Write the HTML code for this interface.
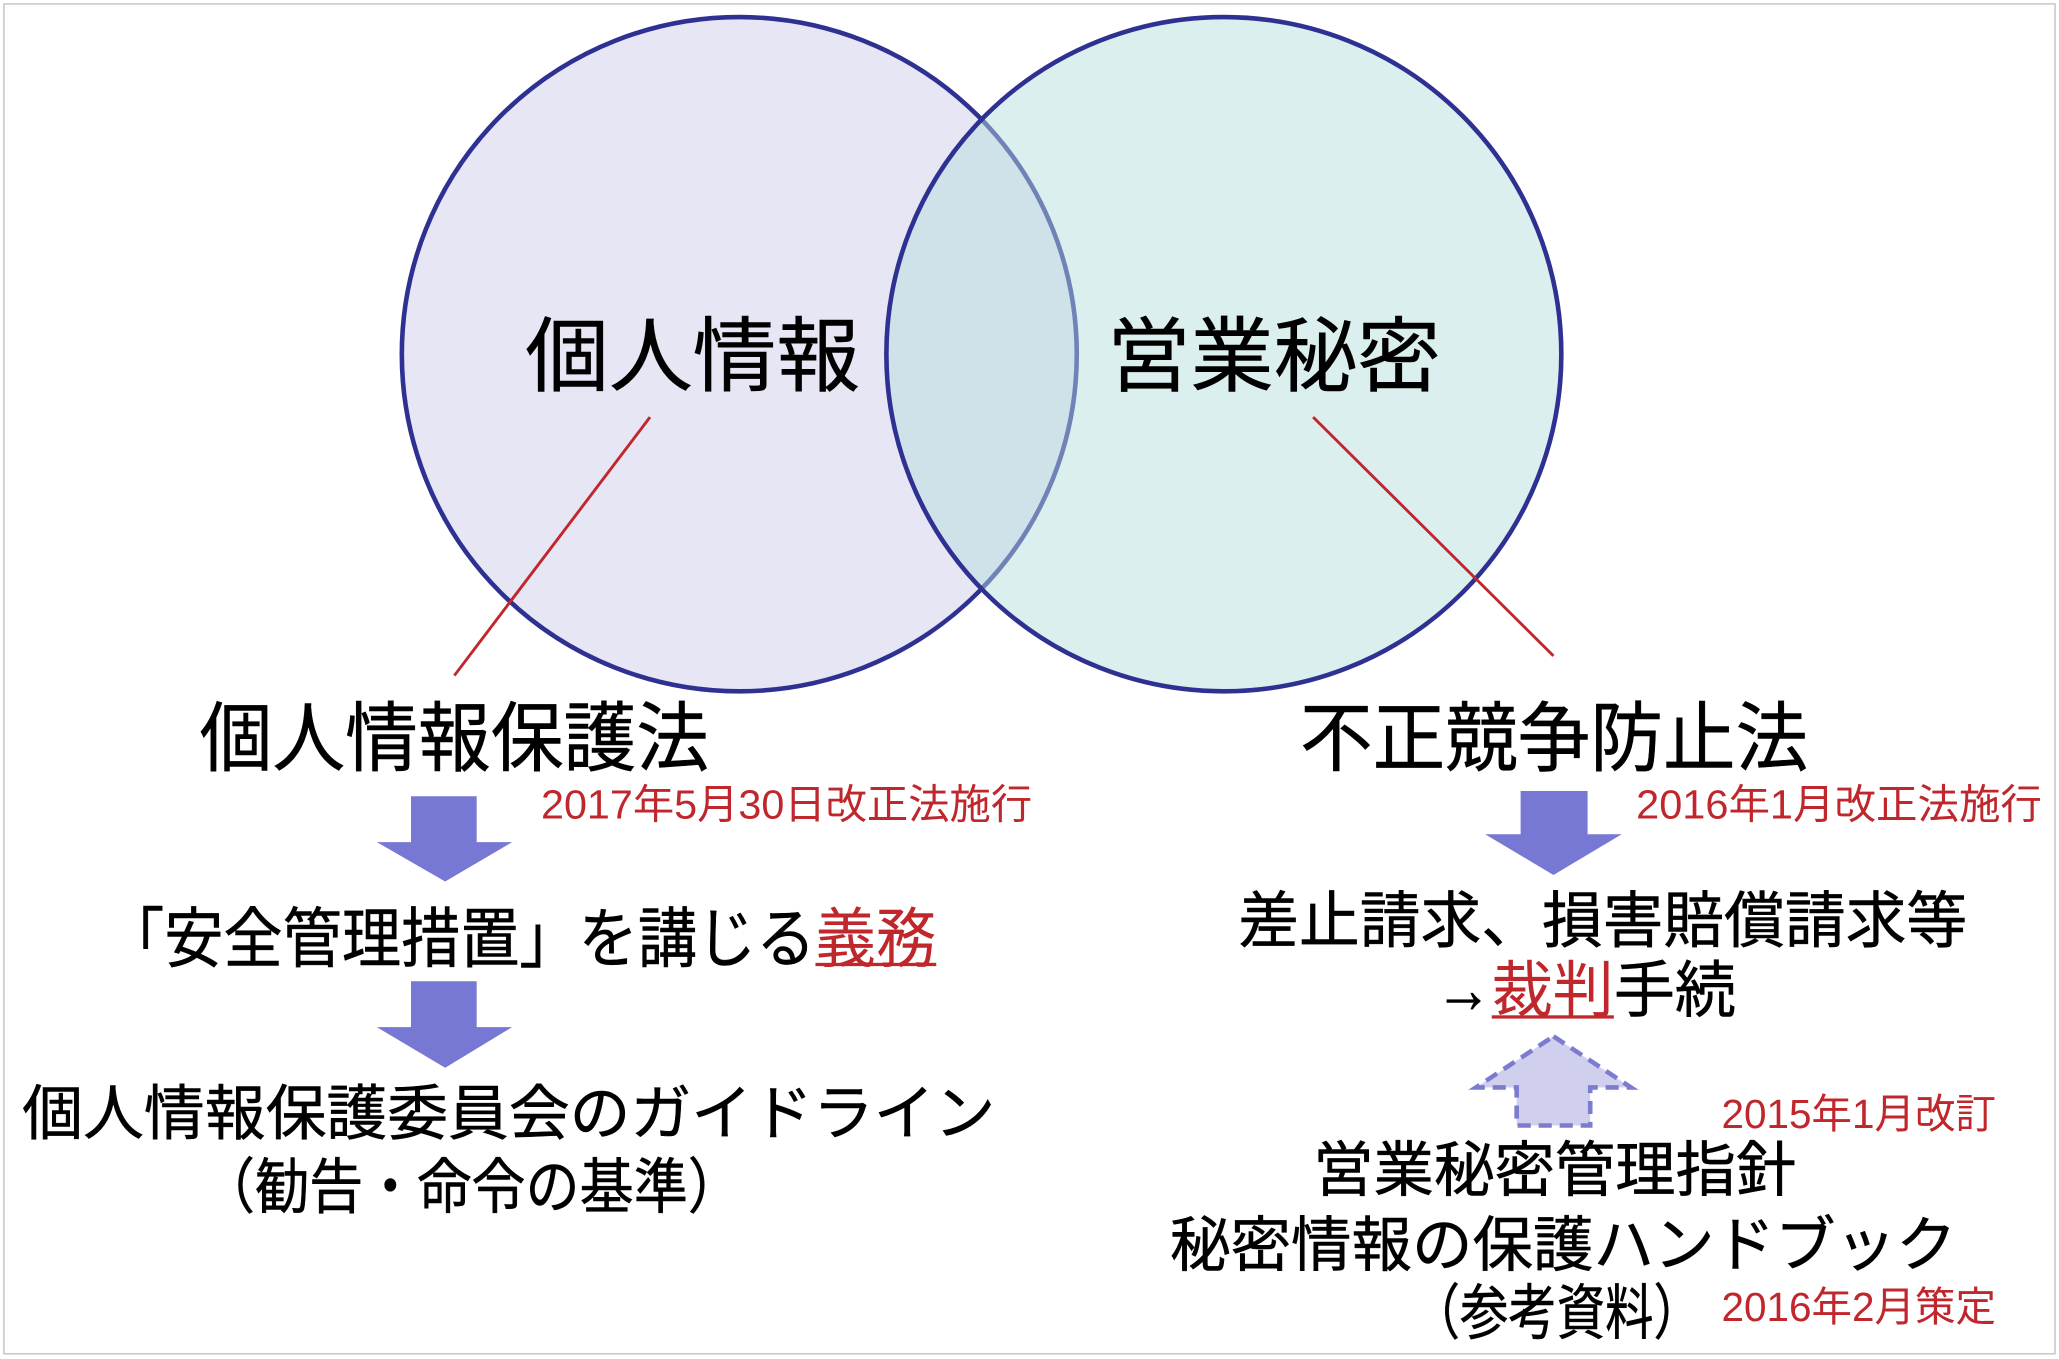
<!DOCTYPE html>
<html><head><meta charset="utf-8"><style>
html,body{margin:0;padding:0;background:#fff;}
svg{display:block;}
text{font-family:"Liberation Sans","Noto Sans CJK JP",sans-serif;}
.b{stroke:#000;stroke-width:0.4;}
</style></head><body>
<svg width="2059" height="1359" viewBox="0 0 1568 1036" preserveAspectRatio="none" xmlns="http://www.w3.org/2000/svg">
<rect x="0" y="0" width="1568" height="1036" fill="#fff"/>
<rect x="3" y="3" width="1562" height="1029" fill="none" stroke="#c8c8c8" stroke-width="1.2"/>
<circle cx="563" cy="270" r="257" fill="#e6e6f5" stroke="#2e3192" stroke-width="3.5"/>
<circle cx="932" cy="270" r="257" fill="rgb(182,222,222)" fill-opacity="0.48" stroke="none"/>
<circle cx="932" cy="270" r="257" fill="none" stroke="#2e3192" stroke-width="3.5"/>
<line x1="495" y1="318" x2="346" y2="515" stroke="#c0272d" stroke-width="2.2"/>
<line x1="1000" y1="318" x2="1183" y2="500" stroke="#c0272d" stroke-width="2.2"/>

<text class="b" x="400" y="293" font-size="62" textLength="255" lengthAdjust="spacingAndGlyphs">個人情報</text>
<text class="b" x="843" y="293" font-size="62" textLength="254" lengthAdjust="spacingAndGlyphs">営業秘密</text>
<text class="b" x="152" y="583" font-size="58" textLength="388" lengthAdjust="spacingAndGlyphs">個人情報保護法</text>
<text class="b" x="990" y="583" font-size="58" textLength="387" lengthAdjust="spacingAndGlyphs">不正競争防止法</text>
<text x="412" y="624" font-size="31" fill="#c0272d" textLength="374" lengthAdjust="spacingAndGlyphs">2017年5月30日改正法施行</text>
<text x="1246" y="624" font-size="31" fill="#c0272d" textLength="309" lengthAdjust="spacingAndGlyphs">2016年1月改正法施行</text>

<polygon points="313,607 363,607 363,642 390,642 339,672 287,642 313,642" fill="#7777d4"/>
<polygon points="313,748 363,748 363,783 390,783 339,814 287,783 313,783" fill="#7777d4"/>
<polygon points="1158,603 1209,603 1209,636 1235,636 1183,667 1131,636 1158,636" fill="#7777d4"/>
<polygon points="1183,790 1242,829 1211,829 1211,858 1155,858 1155,829 1124,829" fill="#d0d0ee" stroke="#7b7bd0" stroke-width="3.5" stroke-dasharray="10,6"/>

<text class="b" x="80" y="733" font-size="50" textLength="541" lengthAdjust="spacingAndGlyphs">「安全管理措置」を講じる</text>
<text x="621" y="733" font-size="50" fill="#c0272d" textLength="92" lengthAdjust="spacingAndGlyphs">義務</text>
<rect x="621" y="734" width="92" height="2.5" fill="#c0272d"/>

<text class="b" x="943" y="718" font-size="47" textLength="555" lengthAdjust="spacingAndGlyphs">差止請求、損害賠償請求等</text>
<text class="b" x="1093" y="772" font-size="52" textLength="43" lengthAdjust="spacingAndGlyphs">→</text>
<text x="1136" y="771" font-size="47" fill="#c0272d" textLength="93" lengthAdjust="spacingAndGlyphs">裁判</text>
<rect x="1136" y="774" width="93" height="2.5" fill="#c0272d"/>
<text class="b" x="1229" y="771" font-size="47" textLength="93" lengthAdjust="spacingAndGlyphs">手続</text>

<text class="b" x="17" y="865" font-size="46" textLength="741" lengthAdjust="spacingAndGlyphs">個人情報保護委員会のガイドライン</text>
<text class="b" x="153" y="921" font-size="46" textLength="412" lengthAdjust="spacingAndGlyphs">（勧告・命令の基準）</text>

<text x="1311" y="860" font-size="31" fill="#c0272d" textLength="209" lengthAdjust="spacingAndGlyphs">2015年1月改訂</text>
<text class="b" x="1000" y="908" font-size="46" textLength="368" lengthAdjust="spacingAndGlyphs">営業秘密管理指針</text>
<text class="b" x="891" y="965" font-size="46" textLength="599" lengthAdjust="spacingAndGlyphs">秘密情報の保護ハンドブック</text>
<text class="b" x="1075" y="1017" font-size="46" textLength="221" lengthAdjust="spacingAndGlyphs">（参考資料）</text>
<text x="1311" y="1007" font-size="31" fill="#c0272d" textLength="209" lengthAdjust="spacingAndGlyphs">2016年2月策定</text>
</svg>
</body></html>
